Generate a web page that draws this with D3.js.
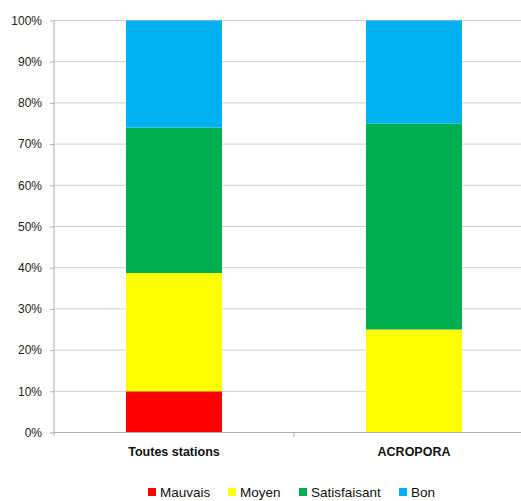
<!DOCTYPE html>
<html lang="en">
<head>
<meta charset="UTF-8">
<title>Etat des stations</title>
<script src="https://d3js.org/d3.v7.min.js"></script>
<style>
  body { margin: 0; background: #fff; }
  svg { display: block; font-family: "Liberation Sans", Arial, sans-serif; }
</style>
</head>
<body>
<div id="chart"></div>
<script>
// data (percent of each column)
var categories = ["Toutes stations", "ACROPORA"];
var seriesNames = ["Mauvais", "Moyen", "Satisfaisant", "Bon"];
var mauvais = [10, 0];
var moyen = [28.7, 25];
var satisfaisant = [35.3, 50];
var bon = [26, 25];
var yTicks = [0, 10, 20, 30, 40, 50, 60, 70, 80, 90, 100];
var colors = ["#ff0000", "#ffff00", "#00b050", "#00b0f0"];

var width = 521, height = 501;

var table = categories.map(function(c, i) {
  return { cat: c, Mauvais: mauvais[i], Moyen: moyen[i], Satisfaisant: satisfaisant[i], Bon: bon[i] };
});

var stack = d3.stack().keys(seriesNames)(table);

var x = d3.scaleBand().domain(categories).range([54, 534]);
var y = d3.scaleLinear().domain([0, 100]).range([432.5, 20.5]);
var color = d3.scaleOrdinal().domain(seriesNames).range(colors);

var svg = d3.select("#chart").append("svg")
    .attr("width", width)
    .attr("height", height);

// gridlines
svg.append("g")
    .selectAll("line")
    .data(yTicks.filter(function(d) { return d > 0; }))
  .enter().append("line")
    .attr("x1", 54).attr("x2", width)
    .attr("y1", function(d) { return y(d); })
    .attr("y2", function(d) { return y(d); })
    .attr("stroke", "#cfcfcf")
    .attr("stroke-width", 1);

// bars
var barW = x.bandwidth() * 0.4;
svg.append("g")
    .selectAll("g")
    .data(stack)
  .enter().append("g")
    .attr("fill", function(d) { return color(d.key); })
  .selectAll("rect")
    .data(function(d) { return d; })
  .enter().append("rect")
    .attr("x", function(d) { return x(d.data.cat) + (x.bandwidth() - barW) / 2; })
    .attr("width", barW)
    .attr("y", function(d) { return y(d[1]); })
    .attr("height", function(d) { return y(d[0]) - y(d[1]); });

// y axis
var yAxis = svg.append("g")
    .attr("transform", "translate(54,0)")
    .call(d3.axisLeft(y).tickValues(yTicks).tickSize(4).tickPadding(8)
      .tickFormat(function(d) { return d + "%"; }));
yAxis.select(".domain").attr("stroke", "#b0b0b0").attr("d", "M0,20.5V436");
yAxis.selectAll(".tick line").attr("stroke", "#b0b0b0");
yAxis.selectAll(".tick text")
    .attr("fill", "#222")
    .style("font-size", "12px");

// x axis
var xAxis = svg.append("g")
    .attr("transform", "translate(0,432.5)")
    .call(d3.axisBottom(x).tickSize(0).tickPadding(15));
xAxis.select(".domain").attr("stroke", "#b0b0b0").attr("d", "M54,0H" + width);
xAxis.selectAll(".tick text")
    .attr("fill", "#111")
    .style("font-size", "12.5px")
    .style("font-weight", "bold");
// category separator tick
svg.append("line")
    .attr("x1", x(categories[1])).attr("x2", x(categories[1]))
    .attr("y1", 432.5).attr("y2", 437)
    .attr("stroke", "#b0b0b0");

// legend
var legendX = [148, 228, 299, 399];
var legend = svg.append("g")
    .selectAll("g")
    .data(seriesNames)
  .enter().append("g")
    .attr("transform", function(d, i) { return "translate(" + legendX[i] + ",488)"; });
legend.append("rect")
    .attr("width", 8).attr("height", 8)
    .attr("fill", function(d) { return color(d); });
legend.append("text")
    .attr("x", 12)
    .attr("y", 9)
    .style("font-size", "13.5px")
    .attr("fill", "#111")
    .text(function(d) { return d; });
</script>
</body>
</html>
